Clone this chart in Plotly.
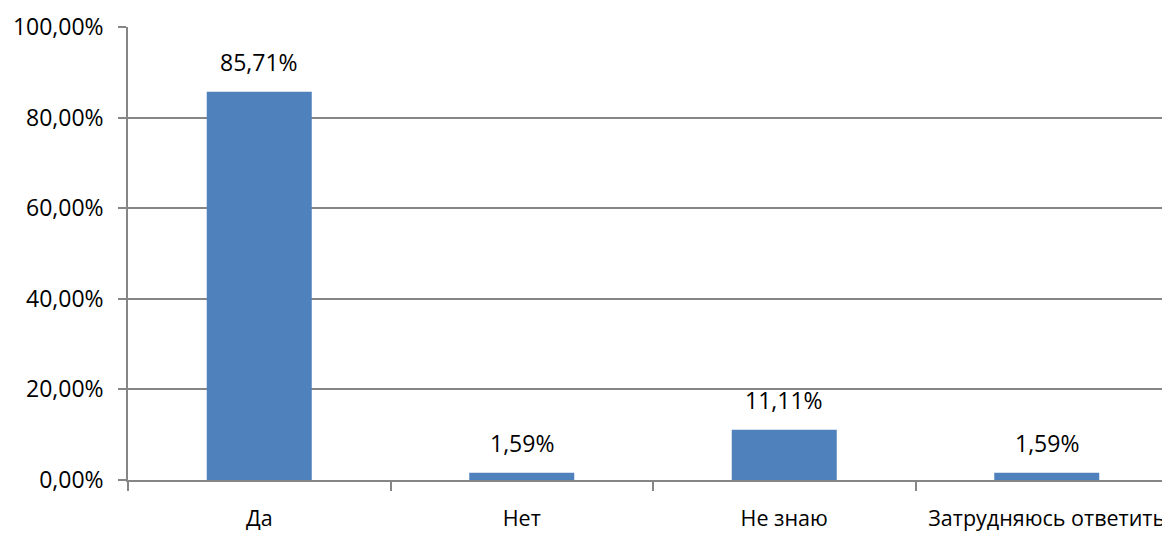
import plotly.graph_objects as go

categories = ["Да", "Нет", "Не знаю", "Затрудняюсь ответить"]
shares = [85.71, 1.59, 11.11, 1.59]
y_ticks = [0, 20, 40, 60, 80, 100]

bar_color = "#4F81BD"
grid_color = "#868686"
font_family = "Open Sans, Liberation Sans, sans-serif"


def pct(v):
    return f"{v:.2f}%".replace(".", ",")


fig = go.Figure()
fig.add_trace(
    go.Bar(
        x=categories,
        y=shares,
        marker=dict(color=bar_color, line_width=0),
        hoverinfo="skip",
    )
)

# data labels sit a bit above each bar, as in the Excel original
for cat, val in zip(categories, shares):
    fig.add_annotation(
        x=cat,
        y=val,
        text=pct(val),
        showarrow=False,
        yanchor="bottom",
        yshift=12,
        font=dict(size=23, color="#000000", family=font_family),
    )

fig.update_xaxes(
    type="category",
    range=[-0.5, 3.5],
    showline=True,
    linecolor=grid_color,
    linewidth=1.5,
    ticks="outside",
    tickson="boundaries",
    ticklen=9,
    tickcolor=grid_color,
    tickwidth=1.5,
    ticklabelstandoff=18,
    tickangle=0,
    automargin=False,
    showgrid=False,
    tickfont=dict(size=21.5, color="#000000", family=font_family),
)
fig.update_yaxes(
    range=[0, 100],
    tickvals=y_ticks,
    ticktext=[pct(v) for v in y_ticks],
    showline=True,
    linecolor=grid_color,
    linewidth=1.5,
    ticks="outside",
    ticklen=8,
    tickcolor=grid_color,
    tickwidth=1.5,
    ticklabelstandoff=10,
    automargin=False,
    showgrid=True,
    gridcolor=grid_color,
    gridwidth=1.5,
    zeroline=False,
    tickfont=dict(size=23, color="#000000", family=font_family),
)
fig.update_layout(
    width=1170,
    height=526,
    margin=dict(l=120, r=0, t=19, b=54),
    bargap=0.6,
    showlegend=False,
    plot_bgcolor="white",
    paper_bgcolor="white",
)

fig.write_html("out.html")
